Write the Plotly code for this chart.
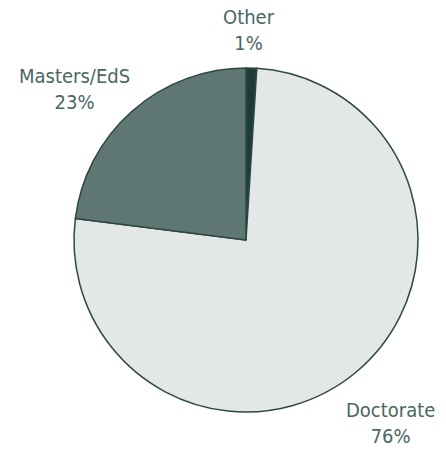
import plotly.graph_objects as go

# Degree share, listed clockwise from 12 o'clock
labels = ["Other", "Doctorate", "Masters/EdS"]
values = [1, 76, 23]
colors = ["#1e3b36", "#e3e8e6", "#5e7773"]

# label anchor positions (paper coords) for the outside captions
label_x = [0.558, 0.875, 0.166]
label_y = [0.935, 0.072, 0.805]

W, H = 446, 456

fig = go.Figure(
    go.Pie(
        labels=labels,
        values=values,
        sort=False,
        direction="clockwise",
        rotation=0,
        marker=dict(colors=colors, line=dict(color="#2d4844", width=1.5)),
        textinfo="none",
        hoverinfo="label+percent",
        showlegend=False,
        domain=dict(x=[74 / W, 418 / W], y=[(H - 412) / H, (H - 68) / H]),
    )
)

for lab, v, x, y in zip(labels, values, label_x, label_y):
    fig.add_annotation(
        x=x, y=y, xref="paper", yref="paper",
        xanchor="center", yanchor="middle",
        text=f"{lab}<br>{v}%",
        showarrow=False,
        align="center",
        font=dict(family="DejaVu Sans Condensed, Liberation Sans Narrow, Roboto, sans-serif",
                  size=20, color="#4b6661"),
    )

fig.update_layout(
    width=W, height=H,
    margin=dict(l=0, r=0, t=0, b=0),
    paper_bgcolor="white",
    plot_bgcolor="white",
)

fig.write_html("out.html")
